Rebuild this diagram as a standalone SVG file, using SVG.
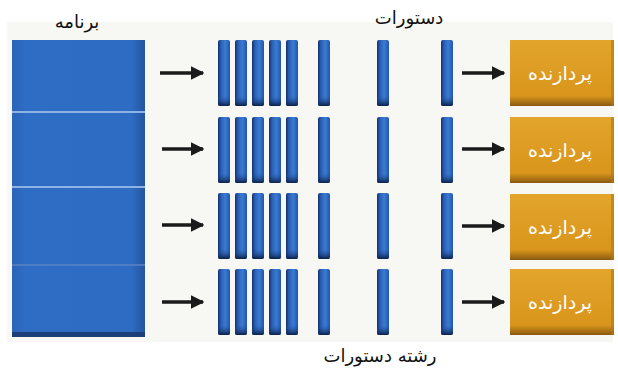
<svg xmlns="http://www.w3.org/2000/svg" width="618" height="372" viewBox="0 0 618 372">
<defs>
<linearGradient id="barG" x1="0" y1="0" x2="1" y2="0">
<stop offset="0" stop-color="#13306a"/>
<stop offset="0.25" stop-color="#2a5fb4"/>
<stop offset="0.6" stop-color="#3b7bd4"/>
<stop offset="1" stop-color="#2456a8"/>
</linearGradient>
<linearGradient id="capG" x1="0" y1="0" x2="0" y2="1">
<stop offset="0" stop-color="#2456a8" stop-opacity="0"/>
<stop offset="1" stop-color="#0c1f45"/>
</linearGradient>
<linearGradient id="progG" x1="0" y1="0" x2="1" y2="0">
<stop offset="0" stop-color="#2b64b8"/>
<stop offset="0.1" stop-color="#2f6cc4"/>
<stop offset="0.9" stop-color="#2e6bc2"/>
<stop offset="1" stop-color="#24559e"/>
</linearGradient>
<linearGradient id="procG" x1="0" y1="0" x2="0" y2="1">
<stop offset="0" stop-color="#e3a52c"/>
<stop offset="0.85" stop-color="#d9951c"/>
<stop offset="1" stop-color="#8a5a10"/>
</linearGradient>
<marker id="ah" viewBox="0 0 10 10" refX="9" refY="5" markerWidth="3.8" markerHeight="3.8" orient="auto">
<path d="M0,0 L10,5 L0,10 z" fill="#1a1a1a"/>
</marker>
<g id="bar">
<rect x="0" y="0" width="12" height="66" rx="2" fill="url(#barG)"/>
<rect x="0" y="56" width="12" height="10" rx="2" fill="url(#capG)"/>
</g>
<g id="proc">
<rect x="0" y="0" width="104" height="66" fill="url(#procG)"/>
<rect x="101" y="0" width="3" height="66" fill="#b07818" opacity="0.6"/>
<text x="50" y="40" class="pt">پردازنده</text>
</g>
</defs>
<style>
.lbl{font-family:"DejaVu Sans","Noto Sans",sans-serif;font-size:18px;fill:#111;text-anchor:middle}
.pt{font-family:"DejaVu Sans","Noto Sans",sans-serif;font-size:19px;fill:#ffffff;text-anchor:middle}
.arr{stroke:#1a1a1a;stroke-width:3.5;fill:none;marker-end:url(#ah)}
.div{stroke:#8fb2e6;stroke-width:2}
</style>
<rect x="0" y="0" width="618" height="372" fill="#ffffff"/>
<rect x="7" y="22" width="606" height="320" fill="#f7f7f4"/>

<g id="program">
<rect x="12" y="40" width="133" height="297" fill="url(#progG)"/>
<rect x="12" y="332" width="133" height="5" fill="#1c3f78"/>
<line class="div" x1="12" y1="112" x2="145" y2="112"/>
<line class="div" x1="12" y1="187" x2="145" y2="187"/>
<line x1="12" y1="265" x2="145" y2="265" stroke="#5c82c0" stroke-width="1.5"/>
<text class="lbl" x="77" y="28">برنامه</text>
</g>

<g id="instructions">
<g id="row1">
<use href="#bar" x="218" y="40"/><use href="#bar" x="235" y="40"/><use href="#bar" x="252" y="40"/><use href="#bar" x="269" y="40"/><use href="#bar" x="286" y="40"/>
<use href="#bar" x="318" y="40"/><use href="#bar" x="377" y="40"/><use href="#bar" x="441" y="40"/>
</g>
<g id="row2">
<use href="#bar" x="218" y="117"/><use href="#bar" x="235" y="117"/><use href="#bar" x="252" y="117"/><use href="#bar" x="269" y="117"/><use href="#bar" x="286" y="117"/>
<use href="#bar" x="318" y="117"/><use href="#bar" x="377" y="117"/><use href="#bar" x="441" y="117"/>
</g>
<g id="row3">
<use href="#bar" x="218" y="193"/><use href="#bar" x="235" y="193"/><use href="#bar" x="252" y="193"/><use href="#bar" x="269" y="193"/><use href="#bar" x="286" y="193"/>
<use href="#bar" x="318" y="193"/><use href="#bar" x="377" y="193"/><use href="#bar" x="441" y="193"/>
</g>
<g id="row4">
<use href="#bar" x="218" y="269"/><use href="#bar" x="235" y="269"/><use href="#bar" x="252" y="269"/><use href="#bar" x="269" y="269"/><use href="#bar" x="286" y="269"/>
<use href="#bar" x="318" y="269"/><use href="#bar" x="377" y="269"/><use href="#bar" x="441" y="269"/>
</g>
<text class="lbl" x="409" y="24">دستورات</text>
<text class="lbl" x="380" y="362">رشته دستورات</text>
</g>

<g id="p1"><use href="#proc" x="510" y="40"/></g>
<g id="p2"><use href="#proc" x="510" y="117"/></g>
<g id="p3"><use href="#proc" x="510" y="194"/></g>
<g id="p4"><use href="#proc" x="510" y="269"/></g>

<g id="connectors">
<line class="arr" x1="160" y1="73" x2="203" y2="73"/>
<line class="arr" x1="162" y1="149" x2="203" y2="149"/>
<line class="arr" x1="162" y1="225" x2="203" y2="225"/>
<line class="arr" x1="162" y1="302" x2="203" y2="302"/>
<line class="arr" x1="462" y1="73" x2="504" y2="73"/>
<line class="arr" x1="462" y1="149" x2="504" y2="149"/>
<line class="arr" x1="462" y1="226" x2="504" y2="226"/>
<line class="arr" x1="462" y1="302" x2="504" y2="302"/>
</g>
</svg>
